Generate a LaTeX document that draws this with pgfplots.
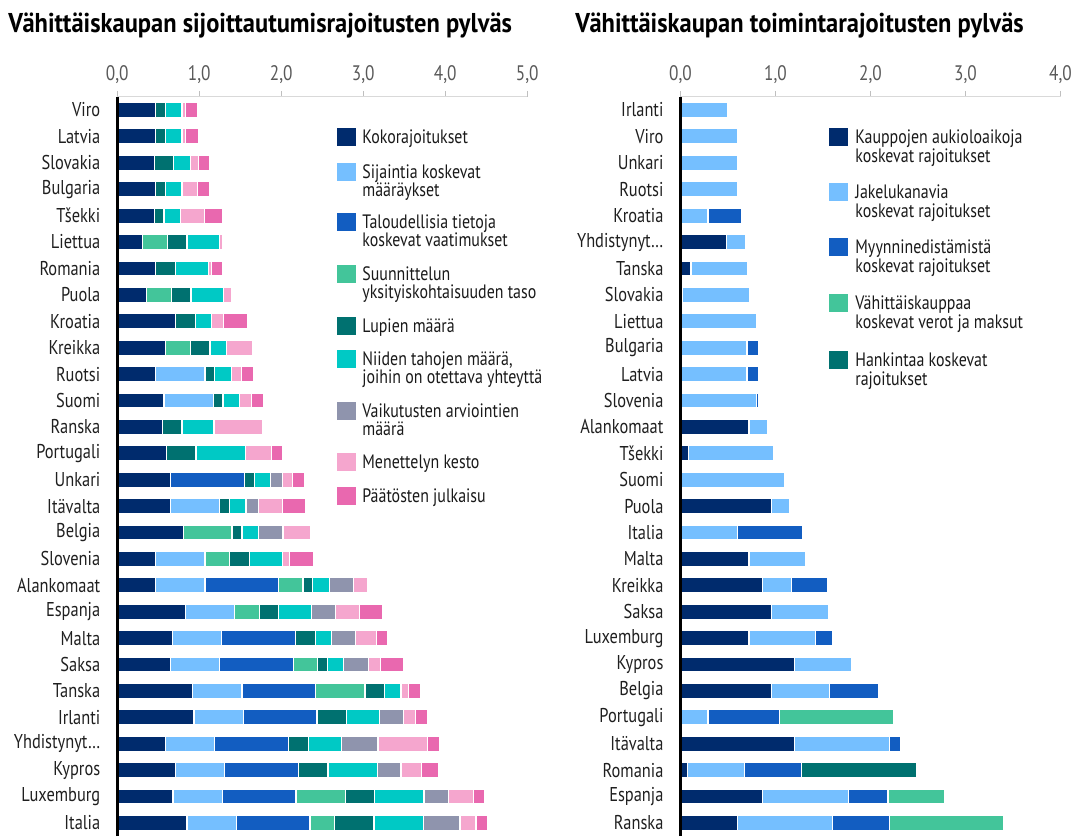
\documentclass[border=0pt]{standalone}
\usepackage{fontspec}
\setmainfont{PT Sans}[FakeStretch=0.82]
\newfontfamily\titlefont{PT Sans}[FakeStretch=0.9]
\usepackage{pgfplots}
\pgfplotsset{compat=1.18}
\usepackage{pgfplotstable}

\definecolor{cNavy}{HTML}{002B6D}
\definecolor{cLBlue}{HTML}{75BFFF}
\definecolor{cBlue}{HTML}{125DC1}
\definecolor{cGreen}{HTML}{43C59A}
\definecolor{cTeal}{HTML}{007170}
\definecolor{cCyan}{HTML}{00C9C5}
\definecolor{cGray}{HTML}{8F94AD}
\definecolor{cLPink}{HTML}{F5A6CE}
\definecolor{cPink}{HTML}{E968AF}

% Left chart: y = 27 (top, Viro) ... 0 (bottom, Italia)
\pgfplotstableread{
y  a     b    c     d    e    f    g     h     k
27 0.47  0    0     0    0.12 0.20 0     0.045 0.15
26 0.47  0    0     0    0.12 0.20 0     0.045 0.16
25 0.45  0    0     0    0.24 0.20 0     0.10  0.135
24 0.47  0    0     0    0.12 0.20 0     0.19  0.14
23 0.45  0    0     0    0.12 0.20 0     0.29  0.22
22 0.31  0    0     0.30 0.24 0.40 0     0.04  0
21 0.47  0    0     0    0.24 0.40 0     0.04  0.14
20 0.36  0    0     0.30 0.24 0.40 0     0.09  0
19 0.71  0    0     0    0.24 0.20 0     0.145 0.29
18 0.59  0    0     0.30 0.24 0.20 0     0.32  0
17 0.47  0.60 0     0    0.12 0.20 0     0.12  0.15
16 0.57  0.60 0     0    0.12 0.20 0     0.15  0.14
15 0.55  0    0     0    0.24 0.39 0     0.59  0
14 0.60  0    0     0    0.36 0.60 0     0.32  0.13
13 0.65  0    0.90  0    0.12 0.20 0.145 0.12  0.15
12 0.65  0.60 0     0    0.12 0.20 0.15  0.29  0.29
11 0.81  0    0     0.59 0.12 0.20 0.30  0.34  0
10 0.47  0.60 0     0.30 0.24 0.40 0     0.09  0.29
9  0.47  0.60 0.895 0.30 0.12 0.20 0.30  0.165 0
8  0.83  0.60 0     0.30 0.24 0.40 0.29  0.29  0.29
7  0.675 0.60 0.90  0    0.24 0.20 0.29  0.26  0.13
6  0.65  0.60 0.90  0.29 0.12 0.20 0.30  0.145 0.29
5  0.92  0.60 0.90  0.60 0.24 0.20 0     0.095 0.145
4  0.935 0.60 0.90  0    0.36 0.40 0.30  0.145 0.15
3  0.59  0.60 0.90  0    0.24 0.40 0.45  0.60  0.145
2  0.71  0.60 0.90  0    0.36 0.60 0.29  0.25  0.21
1  0.68  0.60 0.90  0.60 0.36 0.60 0.30  0.30  0.14
0  0.85  0.60 0.90  0.30 0.48 0.60 0.45  0.195 0.145
}\leftdata

% Right chart: y = 27 (top, Irlanti) ... 0 (bottom, Ranska)
\pgfplotstableread{
y  A     B     C     D    E
27 0     0.50  0     0    0
26 0     0.60  0     0    0
25 0     0.60  0     0    0
24 0     0.60  0     0    0
23 0     0.29  0.35  0    0
22 0.48  0.20  0     0    0
21 0.11  0.60  0     0    0
20 0.025 0.70  0     0    0
19 0     0.80  0     0    0
18 0     0.70  0.12  0    0
17 0     0.70  0.12  0    0
16 0     0.80  0.02  0    0
15 0.72  0.20  0     0    0
14 0.08  0.90  0     0    0
13 0     1.10  0     0    0
12 0.96  0.19  0     0    0
11 0     0.60  0.69  0    0
10 0.72  0.60  0     0    0
9  0.865 0.30  0.38  0    0
8  0.96  0.60  0     0    0
7  0.72  0.70  0.18  0    0
6  1.20  0.60  0     0    0
5  0.96  0.61  0.51  0    0
4  0     0.29  0.755 1.20 0
3  1.20  1.00  0.12  0    0
2  0.075 0.60  0.60  0    1.21
1  0.865 0.90  0.42  0.60 0
0  0.60  1.00  0.60  1.20 0
}\rightdata

\pgfplotsset{
  mybar/.style={
    xbar stacked, bar width=7.5pt, scale only axis,
    ymin=-0.5, ymax=27.5, height=369.7pt,
    axis on top, clip=false,
    axis x line*=top, axis y line*=left,
    x axis line style={draw=black!15, line width=0.7pt},
    y axis line style={draw=black, line width=1.7pt},
    ytick={0,...,27}, ytick style={draw=none},
    xtick style={draw=black!25, line width=0.7pt},
    tick align=outside, major tick length=3pt,
    xticklabel style={text=black!65, font=\fontsize{10.5}{12}\selectfont},
    yticklabel style={text=black!88, font=\fontsize{10}{12}\selectfont, xshift=-2pt},
    every axis plot/.append style={draw=white, line width=0.6pt},
  }
}

\newcommand{\legsq}[3]{\fill[#1] (#2,#3-9.3) rectangle (#2+18.6,#3+9.3);}
\newcommand{\legtx}[3]{\node[anchor=base west, inner sep=0pt, text=black!90, font=\fontsize{9.7}{11}\selectfont] at (#1,#2+7) {#3};}

\begin{document}
\begin{tikzpicture}
\begin{scope}[x=0.5pt, y=-0.5pt, yshift=418.5pt]
  \path[use as bounding box] (0,0) rectangle (1080,837);
  \node[anchor=base west, inner sep=0pt, font=\titlefont\bfseries\fontsize{13.6}{15}\selectfont] at (8,33) {Vähittäiskaupan sijoittautumisrajoitusten pylväs};
  \node[anchor=base west, inner sep=0pt, font=\titlefont\bfseries\fontsize{13.6}{15}\selectfont] at (575,33) {Vähittäiskaupan toimintarajoitusten pylväs};
  % left legend
  \legsq{cNavy}{337}{137}  \legtx{362}{137}{Kokorajoitukset}
  \legsq{cLBlue}{337}{172} \legtx{362}{172}{Sijaintia koskevat} \legtx{362}{190}{määräykset}
  \legsq{cBlue}{337}{222}  \legtx{362}{222}{Taloudellisia tietoja} \legtx{362}{240}{koskevat vaatimukset}
  \legsq{cGreen}{337}{274} \legtx{362}{274}{Suunnittelun} \legtx{362}{292}{yksityiskohtaisuuden taso}
  \legsq{cTeal}{337}{326}  \legtx{362}{326}{Lupien määrä}
  \legsq{cCyan}{337}{359}  \legtx{362}{359}{Niiden tahojen määrä,} \legtx{362}{377}{joihin on otettava yhteyttä}
  \legsq{cGray}{337}{411}  \legtx{362}{411}{Vaikutusten arviointien} \legtx{362}{429}{määrä}
  \legsq{cLPink}{337}{462} \legtx{362}{462}{Menettelyn kesto}
  \legsq{cPink}{337}{496}  \legtx{362}{496}{Päätösten julkaisu}
  % right legend
  \legsq{cNavy}{829}{137}  \legtx{855}{137}{Kauppojen aukioloaikoja} \legtx{855}{156}{koskevat rajoitukset}
  \legsq{cLBlue}{829}{192} \legtx{855}{192}{Jakelukanavia} \legtx{855}{211}{koskevat rajoitukset}
  \legsq{cBlue}{829}{247}  \legtx{855}{247}{Myynninedistämistä} \legtx{855}{266}{koskevat rajoitukset}
  \legsq{cGreen}{829}{303} \legtx{855}{303}{Vähittäiskauppaa} \legtx{855}{322}{koskevat verot ja maksut}
  \legsq{cTeal}{829}{360}  \legtx{855}{360}{Hankintaa koskevat} \legtx{855}{379}{rajoitukset}
\end{scope}

\begin{axis}[mybar, at={(58.65pt,0.4pt)}, anchor=south west, width=205pt,
  xmin=0, xmax=5, xtick={0,1,2,3,4,5},
  xticklabels={{0,0},{1,0},{2,0},{3,0},{4,0},{5,0}},
  yticklabels={Italia,Luxemburg,Kypros,Yhdistynyt…,Irlanti,Tanska,Saksa,Malta,Espanja,Alankomaat,Slovenia,Belgia,Itävalta,Unkari,Portugali,Ranska,Suomi,Ruotsi,Kreikka,Kroatia,Puola,Romania,Liettua,Tšekki,Bulgaria,Slovakia,Latvia,Viro}]
  \addplot[fill=cNavy]  table[x=a, y=y] {\leftdata};
  \addplot[fill=cLBlue] table[x=b, y=y] {\leftdata};
  \addplot[fill=cBlue]  table[x=c, y=y] {\leftdata};
  \addplot[fill=cGreen] table[x=d, y=y] {\leftdata};
  \addplot[fill=cTeal]  table[x=e, y=y] {\leftdata};
  \addplot[fill=cCyan]  table[x=f, y=y] {\leftdata};
  \addplot[fill=cGray]  table[x=g, y=y] {\leftdata};
  \addplot[fill=cLPink] table[x=h, y=y] {\leftdata};
  \addplot[fill=cPink]  table[x=k, y=y] {\leftdata};
\end{axis}

\begin{axis}[mybar, at={(340.25pt,0.4pt)}, anchor=south west, width=190pt,
  xmin=0, xmax=4, xtick={0,1,2,3,4},
  xticklabels={{0,0},{1,0},{2,0},{3,0},{4,0}},
  yticklabels={Ranska,Espanja,Romania,Itävalta,Portugali,Belgia,Kypros,Luxemburg,Saksa,Kreikka,Malta,Italia,Puola,Suomi,Tšekki,Alankomaat,Slovenia,Latvia,Bulgaria,Liettua,Slovakia,Tanska,Yhdistynyt…,Kroatia,Ruotsi,Unkari,Viro,Irlanti}]
  \addplot[fill=cNavy]  table[x=A, y=y] {\rightdata};
  \addplot[fill=cLBlue] table[x=B, y=y] {\rightdata};
  \addplot[fill=cBlue]  table[x=C, y=y] {\rightdata};
  \addplot[fill=cGreen] table[x=D, y=y] {\rightdata};
  \addplot[fill=cTeal]  table[x=E, y=y] {\rightdata};
\end{axis}
\end{tikzpicture}
\end{document}
